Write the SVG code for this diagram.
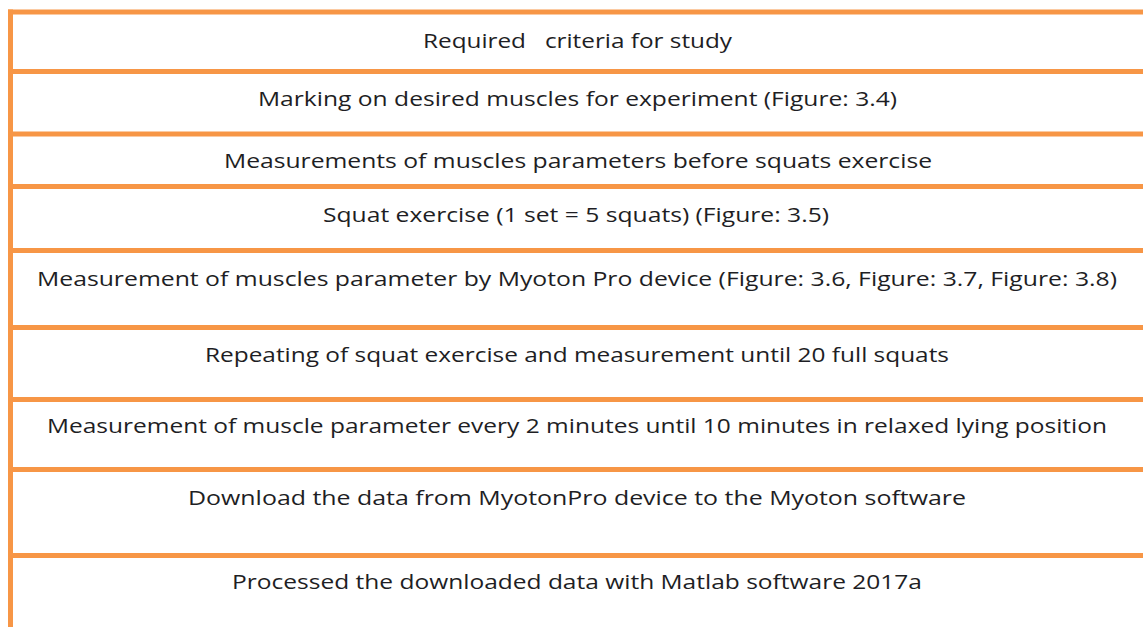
<svg xmlns="http://www.w3.org/2000/svg" width="1143" height="627" viewBox="0 0 1143 627">
<style>
.ln{stroke:#F79646;stroke-width:5;fill:none}
.t{font-family:"Open Sans","Liberation Sans",sans-serif;font-size:20px;fill:#1e1e24;white-space:pre}
</style>
<rect width="1143" height="627" fill="#ffffff"/>
<g id="grid">
<line class="ln" x1="8" y1="12" x2="1143" y2="12"/>
<line class="ln" x1="10.5" y1="9.5" x2="10.5" y2="627"/>
<line class="ln" x1="10.5" y1="71.5" x2="1143" y2="71.5"/>
<line class="ln" x1="10.5" y1="134" x2="1143" y2="134"/>
<line class="ln" x1="10.5" y1="186.5" x2="1143" y2="186.5"/>
<line class="ln" x1="10.5" y1="250.5" x2="1143" y2="250.5"/>
<line class="ln" x1="10.5" y1="327.5" x2="1143" y2="327.5"/>
<line class="ln" x1="10.5" y1="399.5" x2="1143" y2="399.5"/>
<line class="ln" x1="10.5" y1="469.5" x2="1143" y2="469.5"/>
<line class="ln" x1="10.5" y1="555.5" x2="1143" y2="555.5"/>
</g>
<g id="row1"><text class="t" x="423" y="48" textLength="309" lengthAdjust="spacingAndGlyphs">Required   criteria for study</text></g>
<g id="row2"><text class="t" x="258" y="106" textLength="639" lengthAdjust="spacingAndGlyphs">Marking on desired muscles for experiment (Figure: 3.4)</text></g>
<g id="row3"><text class="t" x="224" y="168" textLength="708" lengthAdjust="spacingAndGlyphs">Measurements of muscles parameters before squats exercise</text></g>
<g id="row4"><text class="t" x="323" y="222" textLength="506" lengthAdjust="spacingAndGlyphs">Squat exercise (1 set = 5 squats) (Figure: 3.5)</text></g>
<g id="row5"><text class="t" x="37" y="286" textLength="1080" lengthAdjust="spacingAndGlyphs">Measurement of muscles parameter by Myoton Pro device (Figure: 3.6, Figure: 3.7, Figure: 3.8)</text></g>
<g id="row6"><text class="t" x="205" y="362" textLength="744" lengthAdjust="spacingAndGlyphs">Repeating of squat exercise and measurement until 20 full squats</text></g>
<g id="row7"><text class="t" x="47" y="433" textLength="1060" lengthAdjust="spacingAndGlyphs">Measurement of muscle parameter every 2 minutes until 10 minutes in relaxed lying position</text></g>
<g id="row8"><text class="t" x="188" y="505" textLength="778" lengthAdjust="spacingAndGlyphs">Download the data from MyotonPro device to the Myoton software</text></g>
<g id="row9"><text class="t" x="232" y="589" textLength="690" lengthAdjust="spacingAndGlyphs">Processed the downloaded data with Matlab software 2017a</text></g>
</svg>
